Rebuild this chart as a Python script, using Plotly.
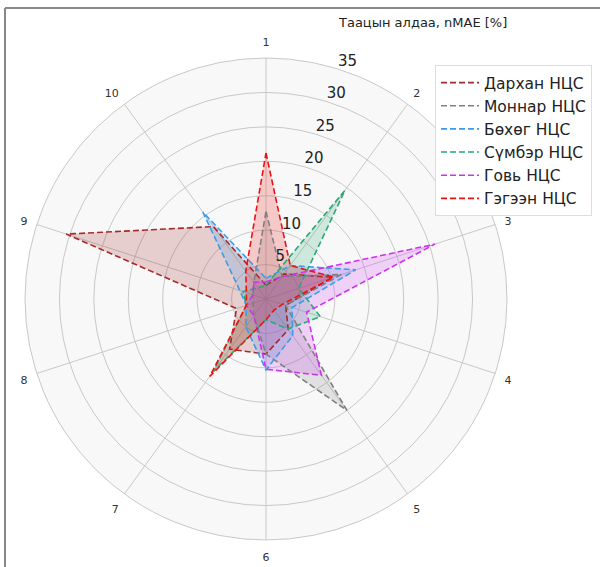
import plotly.graph_objects as go

categories = ["1", "2", "3", "4", "5", "6", "7", "8", "9", "10"]
series_names = ["Дархан НЦС", "Моннар НЦС", "Бөхөг НЦС", "Сүмбэр НЦС", "Говь НЦС", "Гэгээн НЦС"]
darkhan = [2.0, 4.5, 10.2, 3.0, 5.5, 8.0, 9.0, 4.5, 30.5, 13.0]
monnar = [12.7, 4.0, 11.5, 3.0, 20.0, 8.0, 3.0, 2.0, 2.0, 3.0]
bokhog = [3.0, 6.0, 13.7, 4.0, 6.6, 10.3, 5.0, 3.0, 4.0, 15.6]
sumber = [2.0, 19.5, 5.0, 8.3, 5.4, 3.0, 13.0, 3.0, 3.5, 2.0]
govi = [2.5, 4.0, 25.8, 6.2, 13.7, 10.2, 3.0, 3.0, 2.0, 3.0]
gegeen = [21.2, 6.0, 10.3, 2.5, 2.0, 3.0, 13.9, 3.0, 3.0, 5.0]
radial_ticks = [5, 10, 15, 20, 25, 30, 35]
title_text = "Таацын алдаа, nMAE [%]"

colors = ["#a52a2a", "#808080", "#3d9be9", "#2aa876", "#cc33ee", "#ee1111"]
fills = ["rgba(165,42,42,0.2)", "rgba(128,128,128,0.2)", "rgba(61,155,233,0.2)",
         "rgba(42,168,118,0.2)", "rgba(204,51,238,0.2)", "rgba(238,17,17,0.2)"]
all_data = [darkhan, monnar, bokhog, sumber, govi, gegeen]

n = len(categories)
angles = [i * 360.0 / n for i in range(n)]
rmax = 35

fig = go.Figure()
for name, vals, c, fc in zip(series_names, all_data, colors, fills):
    fig.add_trace(go.Scatterpolar(r=vals + [vals[0]], theta=angles + [angles[0]], mode="lines",
                                  fill="toself", fillcolor=fc, line=dict(width=0, color=c),
                                  showlegend=False, hoverinfo="skip"))
for name, vals, c in zip(series_names, all_data, colors):
    fig.add_trace(go.Scatterpolar(r=vals + [vals[0]], theta=angles + [angles[0]], mode="lines",
                                  name=name, line=dict(width=1.6, color=c, dash="6px,3px")))

# radial tick labels (matplotlib-style placement, slightly outside each ring),
# drawn on an overlaid, larger, invisible polar with the same centre and scale
label_angle = 19.0
label_pad = 1.4
fig.add_trace(go.Scatterpolar(r=[t + label_pad for t in radial_ticks],
                              theta=[label_angle] * len(radial_ticks),
                              mode="text", text=[str(t) for t in radial_ticks],
                              textfont=dict(size=15, color="#222", family="DejaVu Sans"),
                              textposition="middle center", subplot="polar2",
                              showlegend=False, hoverinfo="skip"))

W, H = 600, 567
cx, cy, R = 266, 299, 241
R2 = 266
hidden = dict(visible=False, showgrid=False, showline=False, showticklabels=False, ticks="")
fig.update_layout(
    width=W, height=H,
    margin=dict(l=0, r=0, t=0, b=0),
    paper_bgcolor="white",
    font=dict(family="DejaVu Sans", color="#222"),
    polar=dict(
        domain=dict(x=[(cx - R) / W, (cx + R) / W], y=[(H - cy - R) / H, (H - cy + R) / H]),
        bgcolor="#f8f8f8",
        angularaxis=dict(rotation=90, direction="clockwise", type="linear",
                         tickmode="array", tickvals=angles, ticktext=categories,
                         showline=True, linecolor="#c8c8c8", linewidth=1,
                         gridcolor="#c8c8c8", gridwidth=1,
                         ticks="outside", ticklen=7, tickcolor="rgba(0,0,0,0)",
                         tickfont=dict(size=11, color="#333")),
        radialaxis=dict(range=[0, rmax], tickvals=radial_ticks, showticklabels=False,
                        showline=False, gridcolor="#c8c8c8", gridwidth=1, ticks=""),
    ),
    polar2=dict(
        domain=dict(x=[(cx - R2) / W, (cx + R2) / W], y=[(H - cy - R2) / H, (H - cy + R2) / H]),
        bgcolor="rgba(0,0,0,0)",
        angularaxis=dict(rotation=90, direction="clockwise", type="linear", **hidden),
        radialaxis=dict(range=[0, rmax * R2 / R], **hidden),
    ),
    legend=dict(x=435 / W, y=(H - 65) / H, xanchor="left", yanchor="top",
                bgcolor="white", bordercolor="#dddddd", borderwidth=1, itemwidth=38,
                font=dict(size=15.5, color="#222"), tracegroupgap=0),
    annotations=[dict(text=title_text, x=422 / W, y=(H - 22) / H, xref="paper", yref="paper",
                      xanchor="center", yanchor="middle",
                      showarrow=False, font=dict(size=13, color="#222"))],
    shapes=[
        dict(type="line", xref="paper", yref="paper", x0=5 / W, x1=1, y0=(H - 8) / H, y1=(H - 8) / H,
             line=dict(color="#888", width=2)),
        dict(type="line", xref="paper", yref="paper", x0=5 / W, x1=5 / W, y0=0, y1=(H - 8) / H,
             line=dict(color="#888", width=2)),
    ],
)
fig.write_html("out.html")
